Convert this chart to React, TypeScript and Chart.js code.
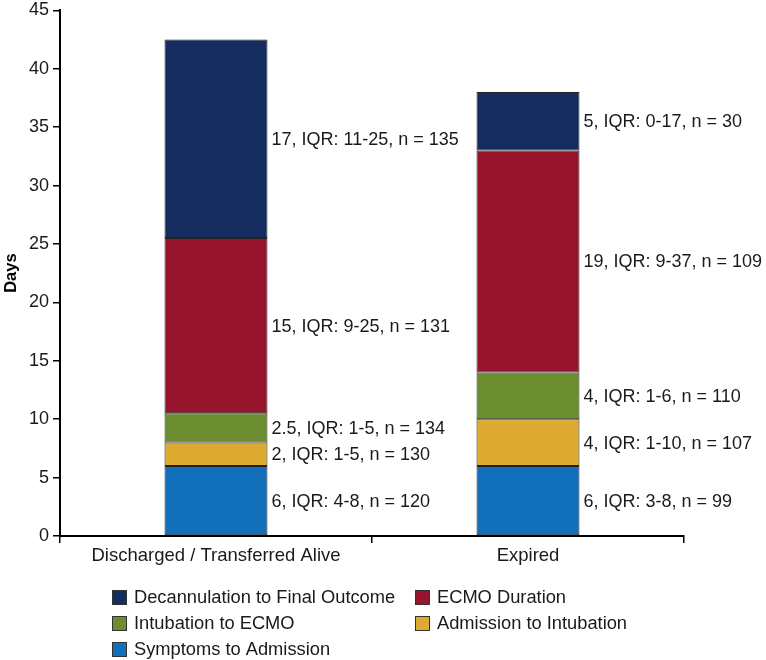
import React, { useEffect, useRef } from "react";
import { Chart, registerables } from "chart.js";

Chart.register(...registerables);

const categories = ["Discharged / Transferred Alive", "Expired"];
const yTicks = [0, 5, 10, 15, 20, 25, 30, 35, 40, 45];

const symptomsToAdmission = [6, 6];
const admissionToIntubation = [2, 4];
const intubationToEcmo = [2.5, 4];
const ecmoDuration = [15, 19];
const decannulationToOutcome = [17, 5];

const symptomsLabels = ["6, IQR: 4-8, n = 120", "6, IQR: 3-8, n = 99"];
const admissionLabels = ["2, IQR: 1-5, n = 130", "4, IQR: 1-10, n = 107"];
const intubationLabels = ["2.5, IQR: 1-5, n = 134", "4, IQR: 1-6, n = 110"];
const ecmoLabels = ["15, IQR: 9-25, n = 131", "19, IQR: 9-37, n = 109"];
const decannulationLabels = ["17, IQR: 11-25, n = 135", "5, IQR: 0-17, n = 30"];

const FONT = "'Liberation Sans', Arial, Helvetica, sans-serif";

const seriesDefs = [
  { label: "Symptoms to Admission", data: symptomsToAdmission, color: "#1170b9", notes: symptomsLabels },
  { label: "Admission to Intubation", data: admissionToIntubation, color: "#deab32", notes: admissionLabels },
  { label: "Intubation to ECMO", data: intubationToEcmo, color: "#6b8d2f", notes: intubationLabels },
  { label: "ECMO Duration", data: ecmoDuration, color: "#97142f", notes: ecmoLabels },
  { label: "Decannulation to Final Outcome", data: decannulationToOutcome, color: "#142c5f", notes: decannulationLabels },
];

// legend layout order: row-major, two columns
const legendOrder = [
  "Decannulation to Final Outcome",
  "ECMO Duration",
  "Intubation to ECMO",
  "Admission to Intubation",
  "Symptoms to Admission",
];

const segLabelPlugin = {
  id: "segLabels",
  afterDatasetsDraw(chart: any) {
    const ctx = chart.ctx;
    ctx.save();
    ctx.font = `18px ${FONT}`;
    ctx.fillStyle = "#1a1a1a";
    ctx.textAlign = "left";
    ctx.textBaseline = "middle";
    chart.data.datasets.forEach((ds: any, di: number) => {
      const meta = chart.getDatasetMeta(di);
      meta.data.forEach((el: any, i: number) => {
        const txt = ds.notes[i];
        const cy = (el.y + el.base) / 2;
        const x = el.x + el.width / 2 + 4;
        ctx.fillText(txt, x, cy + 1);
      });
    });
    ctx.restore();
  },
};

const legendPlugin = {
  id: "customLegend",
  afterDraw(chart: any) {
    const ctx = chart.ctx;
    ctx.save();
    ctx.font = `18.3px ${FONT}`;
    ctx.textBaseline = "middle";
    ctx.textAlign = "left";
    const colX = [112, 415];
    const rowY = [597, 623, 649];
    legendOrder.forEach((name, k) => {
      const ds = chart.data.datasets.find((d: any) => d.label === name);
      const col = k % 2;
      const row = Math.floor(k / 2);
      const x = colX[col];
      const y = rowY[row];
      ctx.fillStyle = ds.backgroundColor;
      ctx.fillRect(x, y - 7, 15, 15);
      ctx.strokeStyle = "#333";
      ctx.lineWidth = 1;
      ctx.strokeRect(x + 0.5, y - 6.5, 14, 14);
      ctx.fillStyle = "#1a1a1a";
      ctx.fillText(name, x + 22, y + 1);
    });
    ctx.restore();
  },
};

export default function App() {
  const ref = useRef<HTMLCanvasElement>(null);
  useEffect(() => {
    if (!ref.current) return;
    const chart = new Chart(ref.current, {
      type: "bar",
      data: {
        labels: categories,
        datasets: seriesDefs.map((s) => ({
          label: s.label,
          data: s.data,
          backgroundColor: s.color,
          borderColor: "#222",
          borderWidth: 1,
          borderSkipped: false,
          barPercentage: 0.33,
          categoryPercentage: 1,
          notes: s.notes,
        })) as any,
      },
      options: {
        animation: false,
        responsive: false,
        maintainAspectRatio: false,
        layout: { padding: { top: 0, right: 82, left: 0, bottom: 0 } },
        plugins: { legend: { display: false }, tooltip: { enabled: false } },
        scales: {
          x: {
            stacked: true,
            grid: {
              display: true,
              drawOnChartArea: false,
              drawTicks: true,
              tickLength: 7,
              color: "#000",
              lineWidth: 1.5,
            },
            border: { display: true, color: "#000", width: 2 },
            ticks: {
              color: "#1a1a1a",
              font: { family: FONT, size: 18.5 },
              padding: 2,
              maxRotation: 0,
            },
            afterFit(scale: any) {
              scale.height = 124;
            },
          },
          y: {
            stacked: true,
            min: 0,
            max: 45,
            grid: {
              display: true,
              drawOnChartArea: false,
              drawTicks: true,
              tickLength: 7,
              color: "#000",
              lineWidth: 1.5,
            },
            border: { display: true, color: "#000", width: 2 },
            afterBuildTicks(scale: any) {
              scale.ticks = yTicks.map((v) => ({ value: v }));
            },
            ticks: {
              color: "#1a1a1a",
              font: { family: FONT, size: 18, lineHeight: 0.7 },
              padding: 4,
            },
            title: {
              display: true,
              text: "Days",
              color: "#000",
              font: { family: FONT, size: 16.5, weight: "bold" },
              padding: { top: 2, bottom: 0 },
            },
            afterFit(scale: any) {
              scale.width = 60;
            },
          },
        },
      },
      plugins: [segLabelPlugin, legendPlugin],
    });
    return () => chart.destroy();
  }, []);
  return (
    <div style={{ position: "fixed", left: 0, top: 0, width: 766, height: 660, background: "#fff" }}>
      <canvas ref={ref} width={766} height={660} style={{ width: 766, height: 660 }} />
    </div>
  );
}
